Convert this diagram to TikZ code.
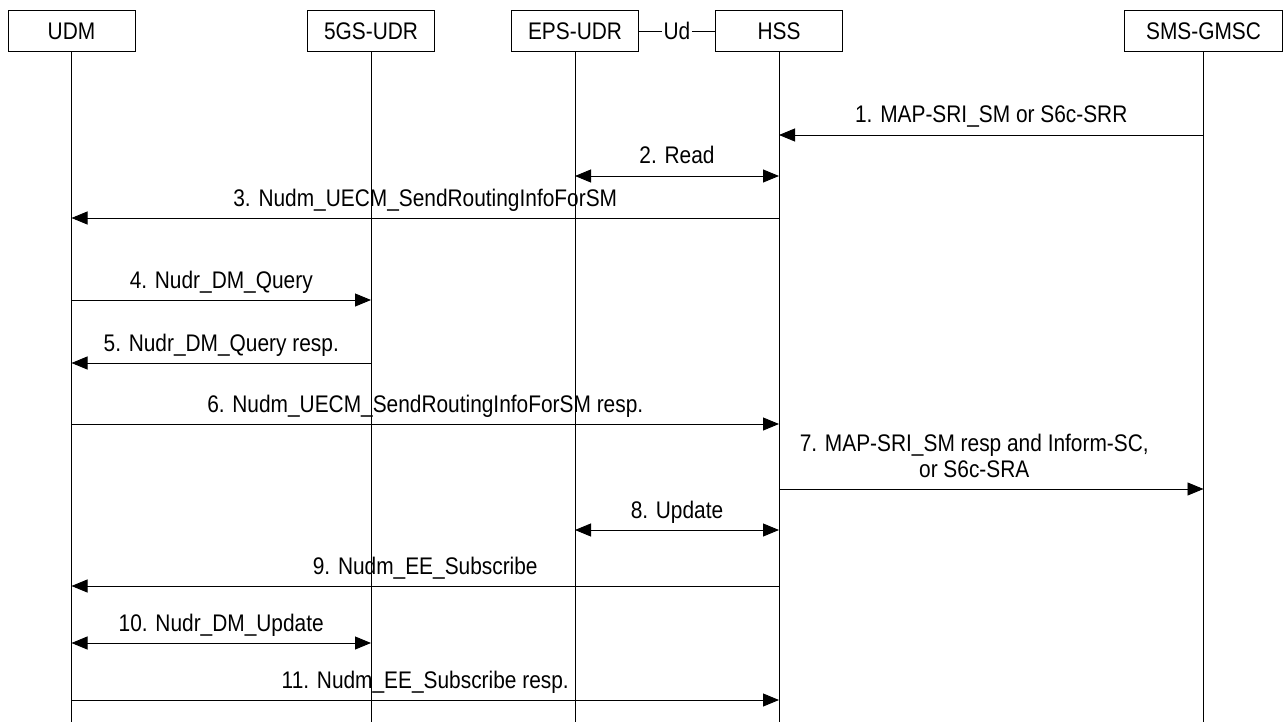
\documentclass[tikz,border=0pt]{standalone}
\usepackage{fontspec}
\setmainfont[FakeStretch=0.87]{Liberation Sans}
\usetikzlibrary{arrows.meta}

\begin{document}
\begin{tikzpicture}[x=1pt, y=-1pt, line width=0.9pt,
  entity/.style={draw, minimum width=127pt, minimum height=41pt, inner sep=0pt, font=\fontsize{24}{26}\selectfont},
  msg/.style={-{Triangle[length=16pt, width=13pt]}},
  both/.style={{Triangle[length=16pt, width=13pt]}-{Triangle[length=16pt, width=13pt]}},
  lbl/.style={anchor=base, yshift=12pt, inner sep=0pt, align=center, font=\fontsize{24}{26}\selectfont}]
\useasboundingbox (0, 0) rectangle (1284, 722);
% entities
\node [entity] (udm) at (71.5, 31) {UDM};
\node [entity] (gsudr) at (371, 31) {5GS-UDR};
\node [entity] (epsudr) at (575, 31) {EPS-UDR};
\node [entity] (hss) at (779, 31) {HSS};
\node [entity, minimum width=158pt] (gmsc) at (1203.5, 31) {SMS-GMSC};
\node [inner sep=1pt, font=\fontsize{24}{26}\selectfont] (ud) at (677, 31) {Ud};
\draw (epsudr.east) -- (ud) -- (hss.west);
% lifelines
\coordinate (bottom) at (0, 722);
\foreach \n in {udm, gsudr, epsudr, hss, gmsc}{\draw [line width=1pt] (\n.south) -- (\n.south |- bottom);}
% messages
\draw [msg] (gmsc |- 0,135) -- node [lbl] (m1) {1. MAP-SRI\_SM or S6c-SRR} (hss |- 0,135);
\draw [both] (epsudr |- 0,176) -- node [lbl] (m2) {2. Read} (hss |- 0,176);
\draw [msg] (hss |- 0,218) -- node [lbl] (m3) {3. Nudm\_UECM\_SendRoutingInfoForSM} (udm |- 0,218);
\draw [msg] (udm |- 0,300) -- node [lbl] (m4) {4. Nudr\_DM\_Query} (gsudr |- 0,300);
\draw [msg] (gsudr |- 0,363) -- node [lbl] (m5) {5. Nudr\_DM\_Query resp.} (udm |- 0,363);
\draw [msg] (udm |- 0,424) -- node [lbl] (m6) {6. Nudm\_UECM\_SendRoutingInfoForSM resp.} (hss |- 0,424);
\draw [msg] (hss |- 0,489) -- node [lbl, xshift=-17pt] (m7) {7. MAP-SRI\_SM resp and Inform-SC,\\ or S6c-SRA} (gmsc |- 0,489);
\draw [both] (epsudr |- 0,530) -- node [lbl] (m8) {8. Update} (hss |- 0,530);
\draw [msg] (hss |- 0,586) -- node [lbl] (m9) {9. Nudm\_EE\_Subscribe} (udm |- 0,586);
\draw [both] (udm |- 0,643) -- node [lbl] (m10) {10. Nudr\_DM\_Update} (gsudr |- 0,643);
\draw [msg] (udm |- 0,700) -- node [lbl] (m11) {11. Nudm\_EE\_Subscribe resp.} (hss |- 0,700);
\end{tikzpicture}
\end{document}
